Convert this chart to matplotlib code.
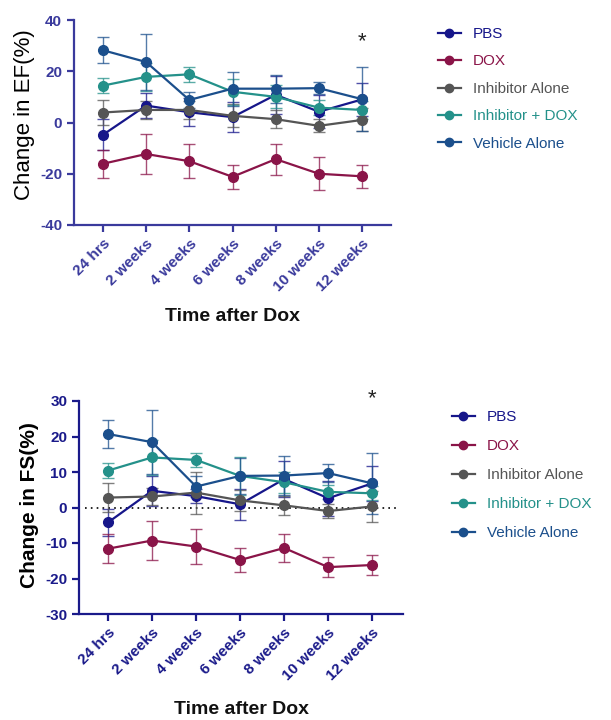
import matplotlib
matplotlib.use("Agg")
import matplotlib.pyplot as plt
from matplotlib.lines import Line2D

plt.rcParams['font.family'] = ['Liberation Sans', 'DejaVu Sans']
plt.rcParams['axes.unicode_minus'] = False

timepoints = ['24 hrs', '2 weeks', '4 weeks', '6 weeks', '8 weeks', '10 weeks', '12 weeks']
groups = ['PBS', 'DOX', 'Inhibitor Alone', 'Inhibitor + DOX', 'Vehicle Alone']
colors = ['#16168a', '#8a1448', '#555555', '#24918a', '#1b4f8c']

# EF change (%), mean and error
ef_pbs = [-4.8, 6.6, 4.0, 2.1, 10.8, 4.2, 9.0]
ef_pbs_err = [6.0, 5.0, 5.5, 6.0, 7.5, 6.5, 6.5]
ef_dox = [-16.1, -12.3, -15.1, -21.2, -14.3, -20.0, -21.0]
ef_dox_err = [5.5, 7.7, 6.6, 4.8, 6.0, 6.5, 4.5]
ef_inh = [3.9, 4.9, 4.9, 2.6, 1.3, -1.3, 1.0]
ef_inh_err = [5.0, 3.5, 3.5, 4.5, 3.5, 2.5, 4.5]
ef_inhdox = [14.4, 17.8, 18.8, 12.0, 10.0, 5.8, 4.9]
ef_inhdox_err = [3.0, 5.5, 2.8, 5.0, 4.5, 3.0, 3.5]
ef_veh = [28.2, 23.6, 8.8, 13.2, 13.2, 13.4, 9.1]
ef_veh_err = [5.0, 11.0, 3.0, 6.7, 5.5, 2.4, 12.6]

# FS change (%), mean and error
fs_pbs = [-4.2, 4.7, 3.2, 0.9, 8.0, 2.6, 6.8]
fs_pbs_err = [3.8, 4.2, 2.0, 4.3, 5.0, 5.0, 5.0]
fs_dox = [-11.6, -9.3, -11.0, -14.8, -11.4, -16.8, -16.2]
fs_dox_err = [4.1, 5.5, 4.9, 3.5, 4.0, 2.9, 2.8]
fs_inh = [2.8, 3.1, 4.2, 2.0, 0.6, -1.0, 0.3]
fs_inh_err = [4.1, 2.5, 5.9, 3.0, 2.7, 2.0, 4.3]
fs_inhdox = [10.4, 14.1, 13.4, 8.9, 7.1, 4.4, 4.0]
fs_inhdox_err = [2.1, 5.0, 2.0, 5.4, 3.0, 2.0, 2.0]
fs_veh = [20.7, 18.4, 5.9, 8.9, 9.0, 9.7, 6.8]
fs_veh_err = [3.9, 9.1, 3.0, 5.0, 5.4, 2.5, 8.5]

ef_means = [ef_pbs, ef_dox, ef_inh, ef_inhdox, ef_veh]
ef_errs = [ef_pbs_err, ef_dox_err, ef_inh_err, ef_inhdox_err, ef_veh_err]
fs_means = [fs_pbs, fs_dox, fs_inh, fs_inhdox, fs_veh]
fs_errs = [fs_pbs_err, fs_dox_err, fs_inh_err, fs_inhdox_err, fs_veh_err]

W, H = 611, 720
fig = plt.figure(figsize=(W / 100, H / 100), dpi=100)


def px_axes(left, right, top, bottom):
    return fig.add_axes([left / W, 1 - bottom / H, (right - left) / W, (bottom - top) / H])


def draw_panel(ax, means, errs, axcol, ylabel, yticks, xlim, legend_anchor, spacing):
    x = list(range(len(timepoints)))
    for m, e, c, g in zip(means, errs, colors, groups):
        eb = ax.errorbar(x, m, yerr=e, color=c, lw=1.6, marker='o', ms=7,
                         elinewidth=1.0, capsize=4, capthick=1.0, label=g)
        for part in list(eb[2]) + list(eb[1]):
            part.set_alpha(0.75)
    ax.set_xlim(*xlim)
    ax.set_ylim(yticks[0], yticks[-1])
    ax.set_yticks(yticks)
    ax.set_xticks(x)
    ax.set_xticklabels(timepoints, rotation=45, ha='right', rotation_mode='anchor')
    for s in ['top', 'right']:
        ax.spines[s].set_visible(False)
    for s in ['left', 'bottom']:
        ax.spines[s].set_color(axcol)
        ax.spines[s].set_linewidth(1.6)
    ax.tick_params(colors=axcol, width=1.6, length=5, labelsize=11)
    for lab in ax.get_xticklabels() + ax.get_yticklabels():
        lab.set_fontweight('bold')
        lab.set_color(axcol)
    ax.set_xlabel('Time after Dox', fontsize=14, fontweight='bold', color='#111111')
    ax.set_ylabel(ylabel, color='black')
    handles = [Line2D([], [], color=c, lw=1.6, marker='o', ms=6) for c in colors]
    leg = ax.legend(handles, groups, loc='upper left', bbox_to_anchor=legend_anchor,
                    bbox_transform=fig.transFigure, frameon=False, fontsize=11,
                    handlelength=1.5, handletextpad=0.8, labelspacing=spacing,
                    borderpad=0, borderaxespad=0)
    for txt, c in zip(leg.get_texts(), colors):
        txt.set_color(c)
    return ax


# top panel: EF
ax1 = px_axes(74, 391, 20, 225)
draw_panel(ax1, ef_means, ef_errs, '#3a3a9c', 'Change in EF(%)',
           [-40, -20, 0, 20, 40], (-0.67, 6.67), (438 / W, 1 - 27 / H), 0.88)
ax1.yaxis.label.set_fontsize(16)
ax1.xaxis.set_label_coords(0.5, -0.405)
ax1.yaxis.set_label_coords(-0.122, 0.54)
ax1.text(6, 31.5, '*', fontsize=16, ha='center', va='center', color='#222222')

# bottom panel: FS
ax2 = px_axes(79, 403, 401, 614)
draw_panel(ax2, fs_means, fs_errs, '#1a1a8a', 'Change in FS(%)',
           [-30, -20, -10, 0, 10, 20, 30], (-0.66, 6.70), (452 / W, 1 - 410 / H), 0.98)
ax2.axhline(0, xmin=0.02, xmax=0.98, color='black', lw=1.2, ls=(0, (1, 2.5)), zorder=0)
ax2.yaxis.label.set_fontsize(15)
ax2.yaxis.label.set_fontweight('bold')
ax2.xaxis.set_label_coords(0.5, -0.41)
ax2.yaxis.set_label_coords(-0.124, 0.51)
ax2.text(6, 30.6, '*', fontsize=16, ha='center', va='center', color='#222222', clip_on=False)

fig.savefig('out.png', dpi=100)
